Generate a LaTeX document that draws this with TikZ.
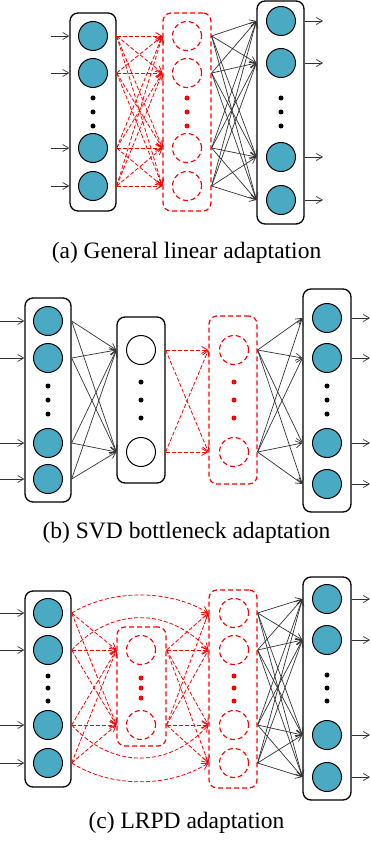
\documentclass[tikz,border=0pt]{standalone}
\usepackage{fontspec}
\setmainfont{Liberation Serif}
\usetikzlibrary{arrows.meta}
\definecolor{neur}{RGB}{74,170,196}
\begin{document}
\begin{tikzpicture}[x=1pt,y=-1pt,
  blk/.style={draw, line width=1.3pt, rounded corners=8pt, fill=white, inner sep=0pt},
  rbox/.style={draw=red, dash pattern=on 5pt off 3pt, line width=1.2pt, rounded corners=8pt, inner sep=0pt},
  neuron/.style={circle, draw, fill=neur, line width=1pt, minimum size=29pt, inner sep=0pt},
  wneuron/.style={circle, draw, fill=white, line width=1pt, minimum size=29pt, inner sep=0pt},
  rneuron/.style={circle, draw=red, dash pattern=on 5pt off 3pt, line width=1.1pt, minimum size=29pt, inner sep=0pt},
  dotb/.style={circle, fill=black, minimum size=5pt, inner sep=0pt},
  dotr/.style={circle, fill=red, minimum size=5pt, inner sep=0pt},
  conn/.style={-{Straight Barb[length=6pt,width=7pt]}, line width=0.7pt, draw=black!80},
  rconn/.style={-{Straight Barb[length=6pt,width=7pt]}, line width=0.8pt, draw=red, dash pattern=on 4pt off 2pt},
  captext/.style={anchor=base, font=\fontsize{23.5}{28}\selectfont}
]
\useasboundingbox (0,0) rectangle (370,845);

% ---------------- panel (a) ----------------
\node[blk, minimum width=46pt, minimum height=198pt] (LA) at (93,112) {};
\node[rbox, minimum width=48pt, minimum height=198pt] (MA) at (187,112) {};
\node[blk, minimum width=47pt, minimum height=223pt] (RA) at (280.5,112.5) {};
\foreach \i/\y in {1/36,2/73,3/148,4/186}{
  \node[neuron] (a\i) at (93,\y) {};
  \node[rneuron] (m\i) at (187,\y) {};
  \coordinate (ia\i) at (51,\y);
}
\foreach \i/\y in {1/21,2/63,3/157,4/200}{
  \node[neuron] (r\i) at (281,\y) {};
  \coordinate (oa\i) at (323,\y);
}
\foreach \i/\y in {1/98,2/112,3/126}{
  \node[dotb] (da\i) at (93,\y) {};
  \node[dotr] (dm\i) at (187,\y) {};
  \node[dotb] (dr\i) at (281,\y) {};
}
\foreach \i in {1,...,4}{
  \draw[conn] (ia\i) -- (ia\i -| LA.west);
  \draw[conn] (r\i -| RA.east) -- (oa\i);
  \foreach \j in {1,...,4}{
    \draw[rconn] (a\i -| LA.east) -- (m\j -| MA.west);
    \draw[conn] (m\i -| MA.east) -- (r\j -| RA.west);
  }
}
\node[captext] (capa) at (186.5,258) {(a) General linear adaptation};

% ---------------- panel (b) ----------------
\node[blk, minimum width=46pt, minimum height=204pt] (LB) at (48,400) {};
\node[blk, minimum width=48pt, minimum height=166pt] (BB) at (141,400) {};
\node[rbox, minimum width=48pt, minimum height=168pt] (RB) at (233,400) {};
\node[blk, minimum width=48pt, minimum height=223pt] (OB) at (327,400.5) {};
\foreach \i/\y in {1/321,2/358,3/443,4/479}{
  \node[neuron] (lb\i) at (48,\y) {};
  \coordinate (ib\i) at (0,\y);
}
\foreach \i/\y in {1/318,2/358,3/443,4/484}{
  \node[neuron] (ob\i) at (327,\y) {};
  \coordinate (obo\i) at (370,\y);
}
\foreach \i/\y in {1/350,2/452}{
  \node[wneuron] (bb\i) at (141,\y) {};
  \node[rneuron] (rb\i) at (234,\y) {};
}
\foreach \i/\y in {1/386,2/400,3/414}{
  \node[dotb] (dlb\i) at (48,\y) {};
  \node[dotb] (dob\i) at (327,\y) {};
}
\foreach \i/\y in {1/382,2/400,3/418}{
  \node[dotb] (dbb\i) at (141,\y) {};
  \node[dotr] (drb\i) at (234,\y) {};
}
\foreach \i in {1,...,4}{
  \draw[conn] (ib\i) -- (ib\i -| LB.west);
  \draw[conn] (ob\i -| OB.east) -- (obo\i);
  \foreach \j in {1,2}{
    \draw[conn] (lb\i -| LB.east) -- (bb\j -| BB.west);
    \draw[conn] (rb\j -| RB.east) -- (ob\i -| OB.west);
  }
}
\foreach \i in {1,2}{
  \foreach \j in {1,2}{
    \draw[rconn] (bb\i -| BB.east) -- (rb\j -| RB.west);
  }
}
\node[captext] (capb) at (186.5,538) {(b) SVD bottleneck adaptation};

% ---------------- panel (c) ----------------
\node[blk, minimum width=46pt, minimum height=196pt] (LC) at (48,689) {};
\node[rbox, minimum width=49pt, minimum height=119pt] (IC) at (141.5,686.5) {};
\node[rbox, minimum width=48pt, minimum height=198pt] (MC) at (233,689) {};
\node[blk, minimum width=48pt, minimum height=223pt] (OC) at (327,688.5) {};
\foreach \i/\y in {1/613,2/650,3/725,4/763}{
  \node[neuron] (lc\i) at (48,\y) {};
  \node[rneuron] (mc\i) at (234,\y) {};
  \coordinate (ic\i) at (0,\y);
}
\foreach \i/\y in {1/599,2/640,3/735,4/777}{
  \node[neuron] (oc\i) at (327,\y) {};
  \coordinate (oco\i) at (370,\y);
}
\foreach \i/\y in {1/650,2/725}{
  \node[rneuron] (nc\i) at (141,\y) {};
}
\foreach \i/\y in {1/676,2/688,3/701}{
  \node[dotb] (dlc\i) at (48,\y) {};
  \node[dotr] (dmc\i) at (234,\y) {};
}
\foreach \i/\y in {1/675,2/688,3/701}{
  \node[dotb] (doc\i) at (327,\y) {};
}
\foreach \i/\y in {1/678,2/688,3/698}{
  \node[dotr] (dnc\i) at (141,\y) {};
}
\foreach \i in {1,...,4}{
  \draw[conn] (ic\i) -- (ic\i -| LC.west);
  \draw[conn] (oc\i -| OC.east) -- (oco\i);
  \foreach \j in {1,2}{
    \draw[rconn] (lc\i -| LC.east) -- (nc\j -| IC.west);
    \draw[rconn] (nc\j -| IC.east) -- (mc\i -| MC.west);
  }
  \foreach \j in {1,...,4}{
    \draw[conn] (mc\i -| MC.east) -- (oc\j -| OC.west);
  }
}
\draw[rconn] (lc1 -| LC.east) .. controls +(40,-24) and +(-40,-24) .. (mc1 -| MC.west);
\draw[rconn] (lc2 -| LC.east) .. controls +(40,-43) and +(-40,-43) .. (mc2 -| MC.west);
\draw[rconn] (lc3 -| LC.east) .. controls +(40,44) and +(-40,44) .. (mc3 -| MC.west);
\draw[rconn] (lc4 -| LC.east) .. controls +(40,25) and +(-40,25) .. (mc4 -| MC.west);
\node[captext] (capc) at (186.5,828) {(c) LRPD adaptation};
\end{tikzpicture}
\end{document}
